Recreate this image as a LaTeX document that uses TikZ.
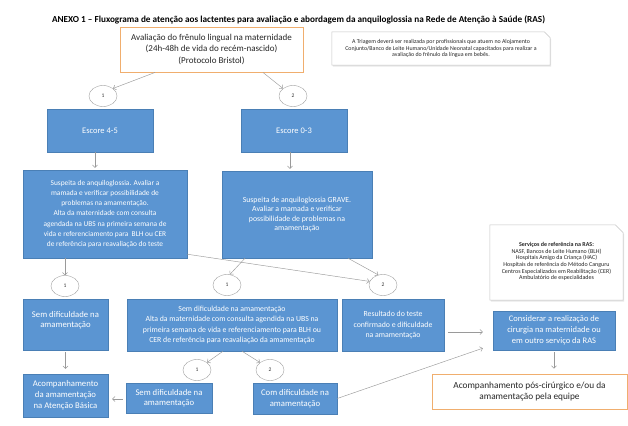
\documentclass[tikz,border=0pt]{standalone}
\usepackage{fontspec}
\setmainfont{Carlito}
\usetikzlibrary{shapes.geometric,arrows.meta}
\definecolor{boxblue}{HTML}{5B95D2}
\definecolor{boxedge}{HTML}{4A7FB5}
\definecolor{orng}{HTML}{F0AE6E}
\definecolor{arrgray}{HTML}{9A9A9A}
\definecolor{notegray}{HTML}{C4C4C4}
\newcommand{\fsz}[2]{\fontsize{#1}{#2}\selectfont}
\begin{document}
\begin{tikzpicture}[x=1pt,y=-1pt,
  bluebox/.style={rectangle, fill=boxblue, draw=boxedge, line width=0.4pt, text=white, align=center, inner sep=1pt},
  orangebox/.style={rectangle, draw=orng, line width=0.9pt, fill=white, text=black!85, align=center, inner sep=1pt},
  plainbox/.style={rectangle, draw=none, align=center, inner sep=1pt, text=black!85},
  numc/.style={ellipse, draw=gray!75, line width=0.4pt, minimum width=28pt, minimum height=21pt, inner sep=0pt, font=\fsz{5.5}{6}, text=black!80},
  arr/.style={draw=arrgray, line width=0.45pt, -{Straight Barb[length=2.5pt,width=5pt]}},
]
\useasboundingbox (0,0) rectangle (628,425);
\fill[white] (0,0) rectangle (628,425);

\node[font=\bfseries\fsz{9.2}{10}, text=black] (title) at (298.5,20) {ANEXO 1 – Fluxograma de atenção aos lactentes para avaliação e abordagem da anquiloglossia na Rede de Atenção à Saúde (RAS)};

\node[orangebox, minimum width=183pt, minimum height=45pt, font=\fsz{9}{11.5}] (top) at (211.5,49.5)
  {Avaliação do frênulo lingual na maternidade\\(24h-48h de vida do recém-nascido)\\(Protocolo Bristol)};

% note box
\node[plainbox, minimum width=218pt, minimum height=33pt] (note) at (441,48.5) {};
\fill[gray!18] ([xshift=1pt,yshift=-1.5pt]note.south west) -- ([xshift=1pt,yshift=-1.5pt]note.north west) -- ([xshift=-5pt,yshift=-1.5pt]note.north east) -- ([xshift=1pt,yshift=-7.5pt]note.north east) -- ([xshift=1pt,yshift=-1.5pt]note.south east) -- cycle;
\draw[notegray, line width=0.5pt, fill=white] (note.south west) -- (note.north west) -- ([xshift=-6pt]note.north east) -- ([yshift=-6pt]note.north east) -- (note.south east) -- cycle;
\node[plainbox, font=\fsz{5.9}{6.2}] at (note.center)
  {A Triagem deverá ser realizada por profissionais que atuem no Alojamento\\Conjunto/Banco de Leite Humano/Unidade Neonatal capacitados para realizar a\\avaliação do frênulo da língua em bebês.};

\node[numc] (c1a) at (103,96) {1};
\node[numc] (c2a) at (293,96) {2};

\node[bluebox, minimum width=106pt, minimum height=43pt, font=\fsz{8.5}{10}] (esc45) at (100,130.5) {Escore 4-5};
\node[bluebox, minimum width=106pt, minimum height=43pt, font=\fsz{8.5}{10}] (esc03) at (294,130.5) {Escore 0-3};

\node[bluebox, minimum width=164pt, minimum height=88pt, font=\fsz{7.4}{10.3}] (susp) at (105,214)
  {Suspeita de anquiloglossia. Avaliar a\\mamada e verificar possibilidade de\\problemas na amamentação.\\Alta da maternidade com consulta\\agendada na UBS na primeira semana de\\vida e referenciamento para\ \ BLH ou CER\\de referência para reavaliação do teste};
\node[bluebox, minimum width=150pt, minimum height=87pt, font=\fsz{7.8}{9.6}] (grave) at (297,214.5)
  {Suspeita de anquiloglossia GRAVE.\\Avaliar a mamada e verificar\\possibilidade de problemas na\\amamentação};

\node[numc] (c1b) at (65,286) {1};
\node[numc] (c1c) at (227,285) {1};
\node[numc] (c2c) at (383,285) {2};

% services box
\node[plainbox, minimum width=133pt, minimum height=75pt] (serv) at (556.5,262.5) {};
\fill[gray!18] ([xshift=1pt,yshift=-1.5pt]serv.south west) -- ([xshift=1pt,yshift=-1.5pt]serv.north west) -- ([xshift=-7pt,yshift=-1.5pt]serv.north east) -- ([xshift=1pt,yshift=-9.5pt]serv.north east) -- ([xshift=1pt,yshift=-1.5pt]serv.south east) -- cycle;
\draw[notegray, line width=0.5pt, fill=white] (serv.south west) -- (serv.north west) -- ([xshift=-8pt]serv.north east) -- ([yshift=-8pt]serv.north east) -- (serv.south east) -- cycle;
\node[plainbox, font=\fsz{6}{6.6}] at ([yshift=1pt]serv.center)
  {\textbf{Serviços de referência na RAS:}\\NASF, Bancos de Leite Humano (BLH)\\Hospitais Amigo da Criança (HAC)\\Hospitais de referência do Método Canguru\\Centros Especializados em Reabilitação (CER)\\Ambulatório de especialidades};

\node[bluebox, minimum width=85pt, minimum height=51pt] (semL) at (65.5,324.5) {};
\node[font=\fsz{8.7}{10.2}, text=white, align=center, inner sep=0pt] at (semL.center) [yshift=4pt] {Sem dificuldade na\\amamentação};
\node[bluebox, minimum width=210pt, minimum height=52pt, font=\fsz{7.8}{10.6}] (mid) at (232,325)
  {Sem dificuldade na amamentação\\Alta da maternidade com consulta agendida na UBS na\\primeira semana de vida e referenciamento para BLH ou\\CER de referência para reavaliação da amamentação};
\node[bluebox, minimum width=102pt, minimum height=52pt, font=\fsz{7.8}{10.5}] (result) at (393,325)
  {Resultado do teste\\confirmado e dificuldade\\na amamentação};
\node[bluebox, minimum width=122pt, minimum height=39pt, font=\fsz{8.5}{11}] (consid) at (554,330.5)
  {Considerar a realização de\\cirurgia na maternidade ou\\em outro serviço da RAS};

\node[numc] (c1d) at (197,370) {1};
\node[numc] (c2d) at (270,370) {2};

\node[bluebox, minimum width=85pt, minimum height=43pt, font=\fsz{8.7}{10.8}] (acomp) at (65.5,395.5)
  {Acompanhamento\\da amamentação\\na Atenção Básica};
\node[bluebox, minimum width=86pt, minimum height=30pt, font=\fsz{8.7}{10.5}] (semM) at (169,398)
  {Sem dificuldade na\\amamentação};
\node[bluebox, minimum width=84pt, minimum height=31pt, font=\fsz{8.7}{10.5}] (com) at (295,398.5)
  {Com dificuldade na\\amamentação};
\node[orangebox, minimum width=195pt, minimum height=35pt, font=\fsz{9.3}{11.7}] (pos) at (529.5,391.5)
  {Acompanhamento pós-cirúrgico e/ou da\\amamentação pela equipe};

% connectors
\draw[arr] ([xshift=-56.5pt]top.south) -- (c1a.north east);
\draw[arr] ([xshift=51.5pt]top.south) -- (c2a.north west);
\draw[arr] ([xshift=-5pt]esc45.south) -- ([xshift=-10pt,yshift=2pt]susp.north);
\draw[arr] ([xshift=-4pt]esc03.south) -- ([xshift=-7pt,yshift=2pt]grave.north);
\draw[arr] ([xshift=-40pt]susp.south) -- (c1b.north);
\draw[arr] ([yshift=4pt]susp.south east) -- (c2c.165);
\draw[arr] ([xshift=-52pt]grave.south) -- (c1c.75);
\draw[arr] ([xshift=51pt]grave.south) -- (c2c.115);
\draw[arr, shorten <=2pt, shorten >=5pt] (semL.south) -- (acomp.north);
\draw[arr] ([xshift=-9pt]mid.south) -- (c1d.north east);
\draw[arr] ([xshift=10pt]mid.south) -- (c2d.north west);
\draw[arr] ([xshift=-3pt]semM.west |- 0,399) -- ([xshift=4pt]acomp.east |- 0,399);
\draw[arr] ([xshift=4pt]result.east |- 0,332) -- ([xshift=-10pt]consid.west |- 0,332);
\draw[arr] (com.east) -- ([xshift=-10pt,yshift=2pt]consid.south west);
\draw[arr, shorten <=2pt, shorten >=5pt] (consid.south) -- (consid.south |- pos.north);
\end{tikzpicture}
\end{document}
